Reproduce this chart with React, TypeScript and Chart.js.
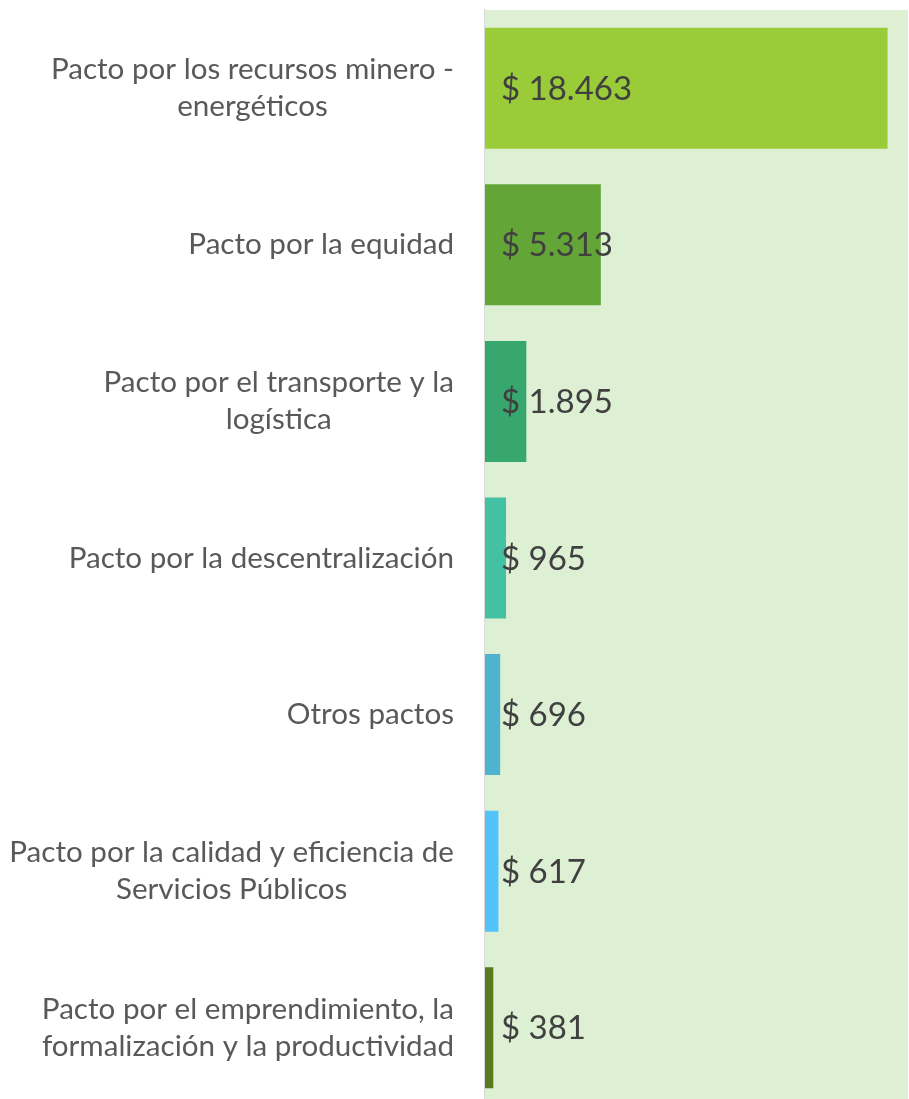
import React, { useEffect, useRef } from 'react';
import { Chart, registerables } from 'chart.js';

Chart.register(...registerables);

const categories: string[][] = [
  ['Pacto por los recursos minero -', 'energéticos'],
  ['Pacto por la equidad'],
  ['Pacto por el transporte y la', 'logística'],
  ['Pacto por la descentralización'],
  ['Otros pactos'],
  ['Pacto por la calidad y eficiencia de', 'Servicios Públicos'],
  ['Pacto por el emprendimiento, la', 'formalización y la productividad'],
];
const values = [18463, 5313, 1895, 965, 696, 617, 381];
const valueLabels = ['$ 18.463', '$ 5.313', '$ 1.895', '$ 965', '$ 696', '$ 617', '$ 381'];
const barColors = ['#9ACB38', '#63A537', '#37A76F', '#44C1A3', '#4EB3CF', '#51C3F9', '#5B7B1E'];
const xMax = 19400;

const W = 909;
const H = 1106;

export default function App() {
  const ref = useRef<HTMLCanvasElement | null>(null);

  useEffect(() => {
    if (!ref.current) return;
    const bgPlugin = {
      id: 'bgPlugin',
      beforeDatasetsDraw(chart: any) {
        const { ctx, chartArea } = chart;
        ctx.save();
        ctx.fillStyle = '#DEF0D4';
        ctx.fillRect(chartArea.left, chartArea.top, chartArea.right - chartArea.left, chartArea.bottom - chartArea.top);
        ctx.restore();
      },
    };
    const labelPlugin = {
      id: 'labelPlugin',
      afterDraw(chart: any) {
        const { ctx, chartArea } = chart;
        const yScale = chart.scales.y;
        ctx.save();
        // category labels
        ctx.font = '29.6px Lato';
        ctx.fillStyle = '#595959';
        ctx.textBaseline = 'middle';
        ctx.textAlign = 'center';
        const lh = 37;
        const rightEdge = chartArea.left - 31;
        categories.forEach((lines, i) => {
          const yc = yScale.getPixelForValue(i);
          const widest = Math.max(...lines.map((l) => ctx.measureText(l).width));
          const cx = rightEdge - widest / 2;
          lines.forEach((l, j) => {
            ctx.fillText(l, cx, yc + (j - (lines.length - 1) / 2) * lh);
          });
        });
        // value labels
        ctx.font = '33px Lato';
        ctx.fillStyle = '#404040';
        ctx.textAlign = 'left';
        valueLabels.forEach((t, i) => {
          const yc = yScale.getPixelForValue(i);
          ctx.fillText(t, chartArea.left + 16, yc + 1);
        });
        ctx.restore();
      },
    };
    const chart = new Chart(ref.current, {
      type: 'bar',
      data: {
        labels: categories.map((c) => c.join(' ')),
        datasets: [
          {
            data: values,
            backgroundColor: barColors,
            borderWidth: 0,
            barPercentage: 0.773,
            categoryPercentage: 1,
          },
        ],
      },
      options: {
        indexAxis: 'y',
        responsive: false,
        animation: false,
        layout: { padding: { left: 485, top: 10, right: 1, bottom: 0 } },
        plugins: { legend: { display: false }, tooltip: { enabled: false } },
        scales: {
          x: { display: false, min: 0, max: xMax },
          y: {
            display: true,
            ticks: { display: false },
            grid: { display: false, drawTicks: false, tickLength: 0 },
            border: { display: true, color: '#D9D9D9', width: 2 },
          },
        },
      },
      plugins: [bgPlugin, labelPlugin],
    });
    return () => chart.destroy();
  }, []);

  return (
    <div style={{ position: 'fixed', left: 0, top: 0, width: W, height: H, background: '#fff' }}>
      <canvas ref={ref} width={W} height={H} style={{ display: 'block', width: W, height: H }} />
    </div>
  );
}
